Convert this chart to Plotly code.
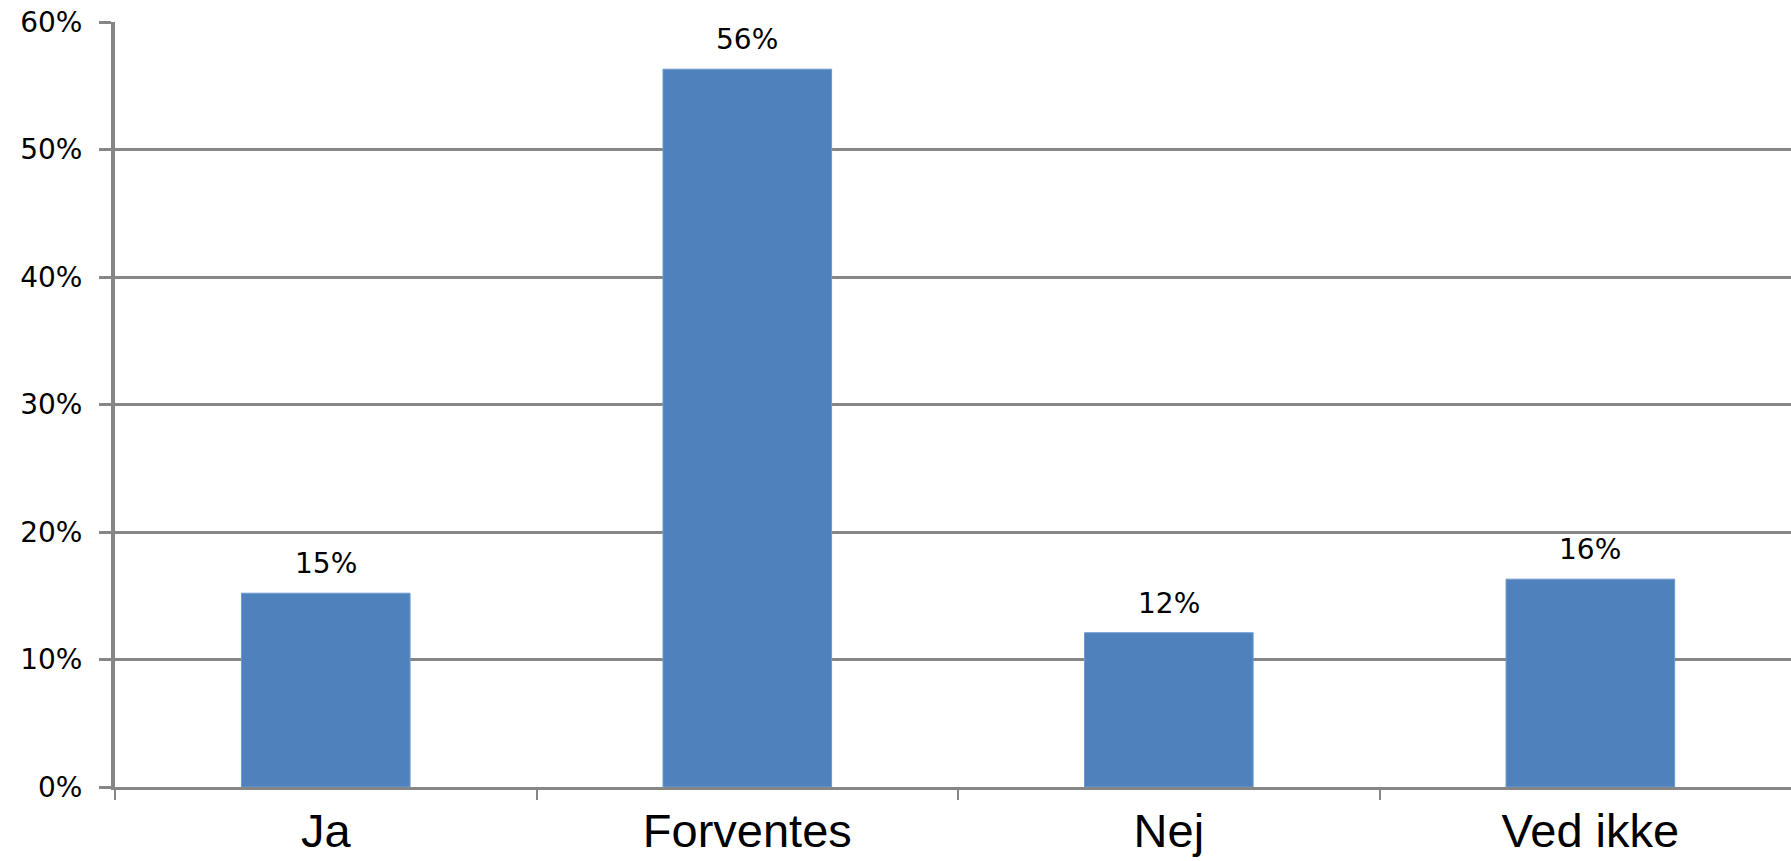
import plotly.graph_objects as go

categories = ["Ja", "Forventes", "Nej", "Ved ikke"]
values = [15.2, 56.3, 12.1, 16.3]
value_labels = ["15%", "56%", "12%", "16%"]
y_ticks = [0, 10, 20, 30, 40, 50, 60]
y_tick_labels = ["0%", "10%", "20%", "30%", "40%", "50%", "60%"]

BAR = "#4F81BD"
AX = "#868686"

fig = go.Figure()
fig.add_trace(go.Bar(
    x=categories, y=values, width=0.4,
    marker=dict(color=BAR, line=dict(color="#6f9ad0", width=1)),
    hoverinfo="skip",
))

for c, v, t in zip(categories, values, value_labels):
    fig.add_annotation(x=c, y=v, text=t, showarrow=False, yanchor="bottom",
                       yshift=11, font=dict(family="DejaVu Sans", size=28, color="#000000"))

fig.update_layout(
    width=1791, height=861,
    margin=dict(l=115, r=0, t=22, b=74),
    paper_bgcolor="white", plot_bgcolor="white",
    showlegend=False,
    xaxis=dict(
        type="category", range=[-0.5, 3.476],
        showline=True, linecolor=AX, linewidth=3,
        ticks="outside", tickson="boundaries", ticklen=10, tickwidth=2, tickcolor=AX,
        showgrid=False, zeroline=False,
        tickfont=dict(family="Liberation Sans, Arial", size=47, color="#000000"),
        ticklabelstandoff=1,
        automargin=False,
        fixedrange=True,
    ),
    yaxis=dict(
        range=[0, 60], tickvals=y_ticks, ticktext=y_tick_labels,
        showline=True, linecolor=AX, linewidth=4,
        ticks="outside", ticklen=12, tickwidth=3, tickcolor=AX,
        showgrid=True, gridcolor=AX, gridwidth=2.5,
        zeroline=False,
        tickfont=dict(family="DejaVu Sans", size=28, color="#000000"),
        ticklabelstandoff=11,
        automargin=False,
        fixedrange=True,
    ),
)

fig.write_html("out.html", config={"displayModeBar": False})
